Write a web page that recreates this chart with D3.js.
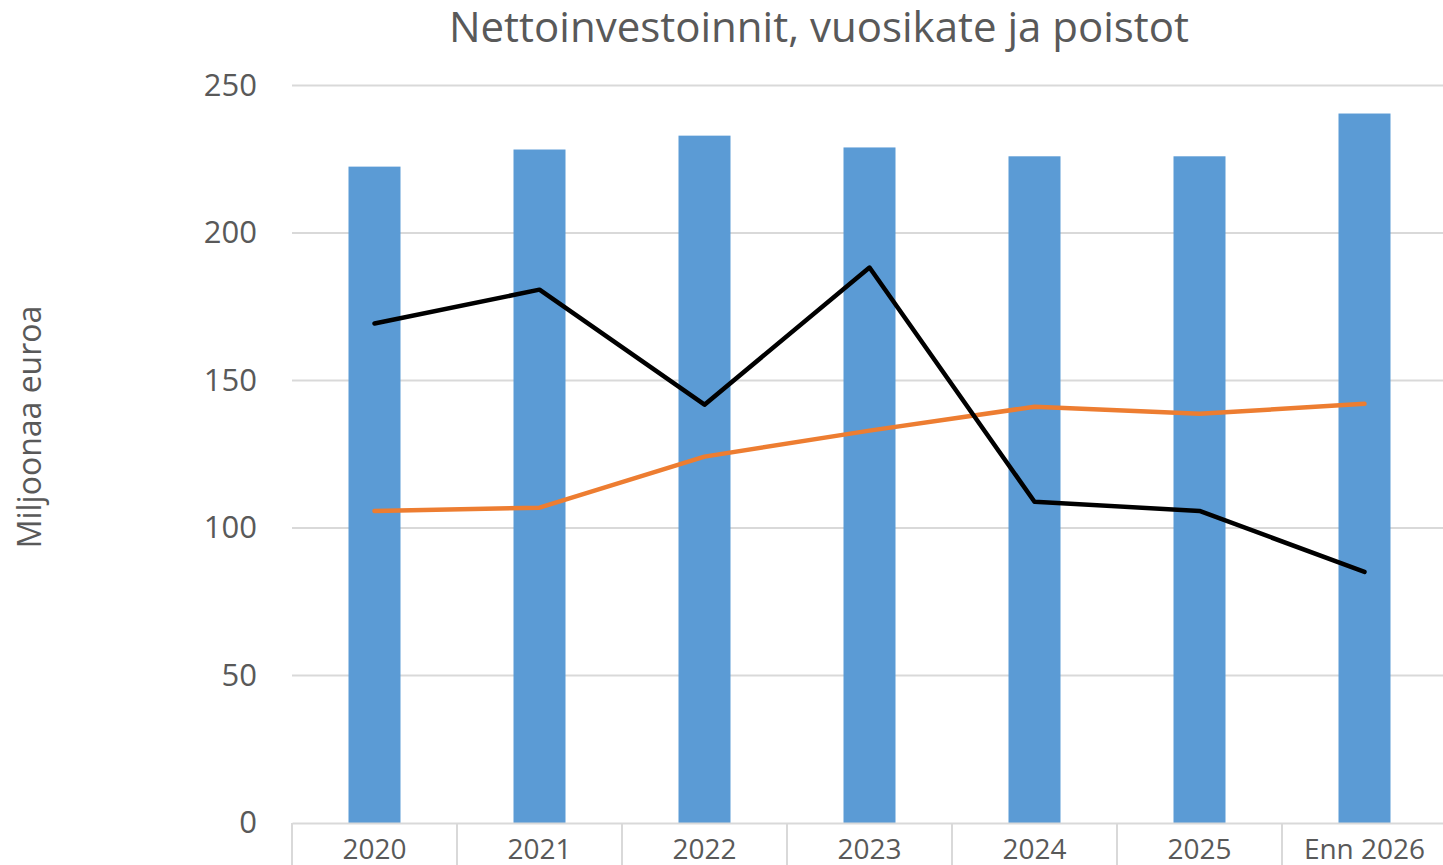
<!DOCTYPE html>
<html><head><meta charset="utf-8">
<script src="https://cdn.jsdelivr.net/npm/d3@7"></script>
<style>body{margin:0;background:#fff;overflow:hidden}text{font-family:"Open Sans",sans-serif;fill:#595959}</style>
</head><body><svg id="c" width="1443" height="865"></svg>
<script>
const categories = ["2020","2021","2022","2023","2024","2025","Enn 2026"];
const nettoinvestoinnit = [222.5, 228.3, 233.0, 229.0, 226.0, 226.0, 240.5];
const vuosikate = [169.3, 180.8, 141.8, 188.3, 108.9, 105.8, 85.1];
const poistot = [105.8, 106.9, 124.2, 133.0, 141.1, 138.7, 142.1];
const yTicks = [0, 50, 100, 150, 200, 250];

(function(){
const svg = d3.select("#c");
const mLeft = 292, mRight = 1447, mTop = 85.5, mBottom = 823;
const x = d3.scaleBand().domain(categories).range([mLeft, mRight]).paddingInner(0).paddingOuter(0);
const y = d3.scaleLinear().domain([0, 250]).range([mBottom, mTop]);

// gridlines
svg.append("g").selectAll("line").data(yTicks.filter(d => d > 0)).join("line")
  .attr("x1", mLeft).attr("x2", 1443).attr("y1", d => y(d)).attr("y2", d => y(d))
  .attr("stroke", "#d9d9d9").attr("stroke-width", 2);

// bars
const bw = 52;
svg.append("g").selectAll("rect").data(categories).join("rect")
  .attr("x", (d) => x(d) + x.bandwidth()/2 - bw/2)
  .attr("width", bw)
  .attr("y", (d,i) => y(nettoinvestoinnit[i]))
  .attr("height", (d,i) => mBottom - y(nettoinvestoinnit[i]))
  .attr("fill", "#5b9bd5");

// x axis
const xAxis = d3.axisBottom(x).tickSize(0).tickSizeOuter(0);
const gx = svg.append("g").attr("transform", `translate(0,${mBottom})`).call(xAxis);
gx.select(".domain").attr("stroke", "#d9d9d9").attr("stroke-width", 2);
gx.selectAll(".tick text").attr("dy", 0).attr("y", 36).attr("font-size", 28).style("fill", "#595959").attr("font-family", "Open Sans");
// separator ticks between categories
svg.append("g").selectAll("line").data(categories).join("line")
  .attr("x1", d => x(d)).attr("x2", d => x(d)).attr("y1", mBottom).attr("y2", 865)
  .attr("stroke", "#d9d9d9").attr("stroke-width", 2);

// y axis
const yAxis = d3.axisLeft(y).tickValues(yTicks).tickSize(0).tickPadding(35);
const gy = svg.append("g").attr("transform", `translate(${mLeft},0)`).call(yAxis);
gy.select(".domain").remove();
gy.selectAll(".tick text").attr("font-size", 31).style("fill", "#595959").attr("font-family", "Open Sans");

// lines
const line = d3.line().x((d,i) => x(categories[i]) + x.bandwidth()/2).y(d => y(d));
svg.append("path").datum(poistot).attr("d", line).attr("fill", "none").attr("stroke", "#ed7d31").attr("stroke-width", 4.5).attr("stroke-linejoin", "round").attr("stroke-linecap", "round");
svg.append("path").datum(vuosikate).attr("d", line).attr("fill", "none").attr("stroke", "#000").attr("stroke-width", 4.5).attr("stroke-linejoin", "round").attr("stroke-linecap", "round");

// title
svg.append("text").attr("x", 819).attr("y", 42).attr("text-anchor", "middle").attr("font-size", 42).text("Nettoinvestoinnit, vuosikate ja poistot");
// y axis title
svg.append("text").attr("transform", "translate(41,427) rotate(-90)").attr("text-anchor", "middle").attr("font-size", 32).text("Miljoonaa euroa");
})();
</script></body></html>
